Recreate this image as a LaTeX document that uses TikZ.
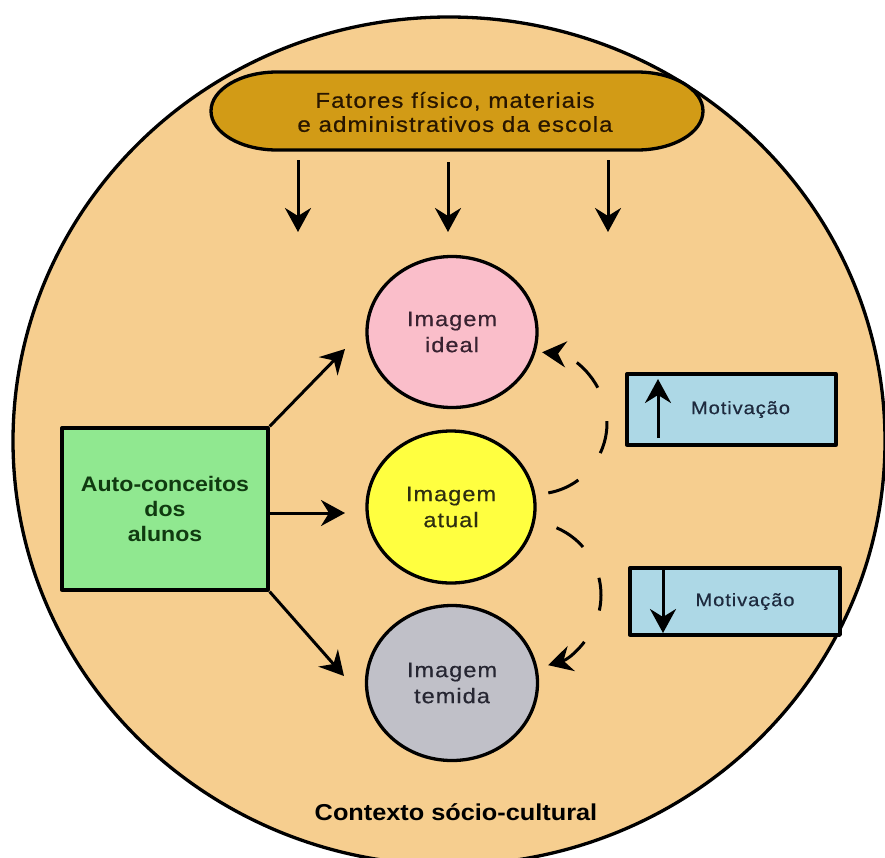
\documentclass[tikz,border=0pt]{standalone}
\usepackage{fontspec}
\usetikzlibrary{arrows.meta,shapes.geometric}
\setmainfont{Liberation Sans}
\newfontfamily\imgfont{Liberation Sans}[FakeStretch=1.12, LetterSpace=5, FakeBold=0.5]
\newfontfamily\headfont{Liberation Sans}[FakeStretch=1.1]

\definecolor{contextfill}{RGB}{246,206,143}
\definecolor{factorsfill}{RGB}{210,155,22}
\definecolor{factorstext}{RGB}{40,22,0}
\definecolor{idealfill}{RGB}{250,190,202}
\definecolor{actualfill}{RGB}{255,255,64}
\definecolor{fearedfill}{RGB}{192,192,200}
\definecolor{selffill}{RGB}{144,232,144}
\definecolor{selftext}{RGB}{16,58,16}
\definecolor{motivfill}{RGB}{173,216,230}
\definecolor{motivtext}{RGB}{30,42,62}
\definecolor{idealtext}{RGB}{56,34,48}
\definecolor{actualtext}{RGB}{46,46,16}
\definecolor{fearedtext}{RGB}{38,38,50}

\begin{document}
\begin{tikzpicture}[x=1pt, y=-1pt, line join=round,
  outline/.style={draw=black, line width=3.3pt},
  blob/.style={outline, ellipse, inner sep=0pt, align=center,
    font={\imgfont\fontsize{21}{26}\selectfont}},
  panel/.style={outline, rectangle, inner sep=0pt},
  link/.style={line width=3pt, -{Stealth[length=24pt, width=26pt, inset=8pt]}},
  dashlink/.style={link, dash pattern=on 33pt off 35pt},
]
\useasboundingbox (0,0) rectangle (885,857);
\clip (0,0) rectangle (885,857);
\fill[white] (0,0) rectangle (885,857);

% socio-cultural context
\draw[outline, fill=contextfill] (449,441) ellipse [x radius=436, y radius=424];

% school factors banner
\draw[outline, fill=factorsfill] (277,72) -- (637,72)
  arc[start angle=-90, end angle=90, x radius=66, y radius=39]
  -- (277,150)
  arc[start angle=90, end angle=270, x radius=66, y radius=39] -- cycle;
\node[align=center, text=factorstext, font={\imgfont\fontsize{21.5}{24}\selectfont}]
  (factors) at (455,112) {Fatores físico, materiais\\e administrativos da escola};

\coordinate (f1a) at (298,160); \coordinate (f1b) at (298,232);
\coordinate (f2a) at (448,162); \coordinate (f2b) at (448,232);
\coordinate (f3a) at (608,160); \coordinate (f3b) at (608,232);
\draw[link] (f1a) -- (f1b);
\draw[link] (f2a) -- (f2b);
\draw[link] (f3a) -- (f3b);

% the three self images
\node[blob, fill=idealfill, text=idealtext, minimum width=170pt, minimum height=151pt]
  (ideal) at (452,332) {Imagem\\ideal};
\node[blob, fill=actualfill, text=actualtext, minimum width=168pt, minimum height=152pt]
  (actual) at (451,507) {Imagem\\atual};
\node[blob, fill=fearedfill, text=fearedtext, minimum width=171pt, minimum height=155pt]
  (feared) at (452,683) {Imagem\\temida};

% students' self-concepts
\node[panel, fill=selffill, text=selftext, minimum width=206pt, minimum height=162pt,
  align=center, font={\headfont\bfseries\fontsize{21}{25}\selectfont}]
  (self) at (165,509) {Auto-conceitos\\dos\\alunos};

\coordinate (toideal) at (345,349);
\coordinate (toactual) at (345,513);
\coordinate (tofeared) at (344,676);
\draw[link] (self.north east) -- (toideal);
\draw[link] (self.east |- toactual) -- (toactual);
\draw[link] (self.south east) -- (tofeared);

% motivation boxes
\node[panel, fill=motivfill, text=motivtext, minimum width=209pt, minimum height=71pt,
  font={\imgfont\fontsize{18}{22}\selectfont}]
  (motup) at (731.5,409.5) {\hspace*{18pt}Motivação};
\node[panel, fill=motivfill, text=motivtext, minimum width=210pt, minimum height=67pt,
  font={\imgfont\fontsize{18}{22}\selectfont}]
  (motdown) at (735,601.5) {\hspace*{20pt}Motivação};

\coordinate (upa) at (658,438); \coordinate (upb) at (658,379);
\coordinate (dna) at (663,569); \coordinate (dnb) at (663,633);
\draw[link] (upa) -- (upb);
\draw[link] (dna) -- (dnb);

% dashed feedback arcs
\coordinate (arcup) at (548.3,492.9);
\coordinate (arcdown) at (556.5,527.8);
\draw[dashlink] (arcup) arc[start angle=80, end angle=-85, radius=71];
\draw[dashlink] (arcdown) arc[start angle=-67, end angle=74, radius=73];

% caption
\node[font={\headfont\bfseries\fontsize{23}{26}\selectfont}, text=black]
  (context) at (456,812) {Contexto sócio-cultural};
\end{tikzpicture}
\end{document}
